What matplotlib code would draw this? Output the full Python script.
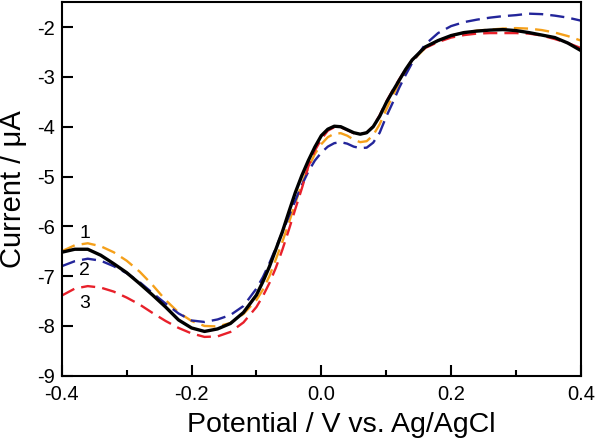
import numpy as np
import matplotlib
matplotlib.use('Agg')
import matplotlib.pyplot as plt

plt.rcParams['font.family'] = ['Liberation Sans', 'DejaVu Sans']
plt.rcParams['axes.unicode_minus'] = False

# potential (V) and currents (uA)
potential = [-0.40, -0.38, -0.36, -0.34, -0.32, -0.30, -0.28, -0.26, -0.24, -0.22,
             -0.20, -0.18, -0.16, -0.14, -0.12, -0.10, -0.09, -0.08, -0.07, -0.06,
             -0.05, -0.04, -0.03, -0.02, -0.01, 0.00, 0.01, 0.02, 0.03, 0.04,
             0.05, 0.06, 0.07, 0.08, 0.09, 0.10, 0.11, 0.12, 0.13, 0.14,
             0.16, 0.18, 0.20, 0.22, 0.24, 0.26, 0.28, 0.30, 0.32, 0.34,
             0.36, 0.38, 0.40]

black = [-6.52, -6.46, -6.46, -6.58, -6.75, -6.93, -7.15, -7.38, -7.62, -7.88,
         -8.04, -8.11, -8.06, -7.95, -7.73, -7.38, -7.11, -6.81, -6.46, -6.11,
         -5.71, -5.32, -4.98, -4.68, -4.41, -4.18, -4.05, -3.99, -4.00, -4.06,
         -4.12, -4.15, -4.12, -4.00, -3.79, -3.52, -3.29, -3.07, -2.85, -2.66,
         -2.40, -2.27, -2.17, -2.11, -2.08, -2.06, -2.05, -2.07, -2.11, -2.16,
         -2.21, -2.32, -2.47]

curve1 = [-6.50, -6.38, -6.34, -6.40, -6.52, -6.69, -6.91, -7.18, -7.48, -7.73,
          -7.90, -8.00, -8.01, -7.94, -7.76, -7.48, -7.27, -7.00, -6.66, -6.31,
          -5.93, -5.53, -5.15, -4.82, -4.55, -4.35, -4.21, -4.14, -4.13, -4.18,
          -4.26, -4.31, -4.29, -4.17, -3.95, -3.66, -3.38, -3.12, -2.89, -2.69,
          -2.42, -2.27, -2.17, -2.11, -2.07, -2.05, -2.03, -2.02, -2.03, -2.06,
          -2.11, -2.18, -2.27]

curve2 = [-6.80, -6.70, -6.65, -6.69, -6.80, -6.94, -7.12, -7.34, -7.55, -7.75,
          -7.89, -7.92, -7.87, -7.78, -7.60, -7.25, -7.02, -6.74, -6.43, -6.12,
          -5.80, -5.48, -5.17, -4.90, -4.68, -4.52, -4.40, -4.33, -4.31, -4.34,
          -4.40, -4.43, -4.42, -4.32, -4.12, -3.80, -3.52, -3.22, -2.96, -2.72,
          -2.35, -2.12, -1.98, -1.90, -1.85, -1.81, -1.78, -1.76, -1.73, -1.74,
          -1.77, -1.81, -1.87]

curve3 = [-7.39, -7.25, -7.20, -7.23, -7.31, -7.43, -7.57, -7.74, -7.90, -8.04,
          -8.15, -8.22, -8.21, -8.12, -7.93, -7.62, -7.40, -7.14, -6.83, -6.47,
          -6.07, -5.65, -5.24, -4.80, -4.48, -4.25, -4.08, -4.01, -4.01, -4.07,
          -4.13, -4.15, -4.12, -3.99, -3.77, -3.50, -3.27, -3.05, -2.85, -2.66,
          -2.42, -2.30, -2.21, -2.16, -2.13, -2.12, -2.12, -2.12, -2.13, -2.17,
          -2.24, -2.32, -2.42]

labels = ['1', '2', '3']
label_y = [-6.14, -6.89, -7.55]

fig = plt.figure(figsize=(6, 4.4), dpi=100)
ax = fig.add_axes([0.103, 0.146, 0.865, 0.849])

dash = (0, (6, 3))
ax.plot(potential, curve1, color='#F5A01A', lw=1.7, ls=dash)
ax.plot(potential, curve2, color='#23259A', lw=1.7, ls=dash)
ax.plot(potential, curve3, color='#E8202A', lw=1.7, ls=dash)
ax.plot(potential, black, color='black', lw=2.4)

for lab, yy in zip(labels, label_y):
    ax.text(-0.365, yy, lab, fontsize=14, ha='center', va='center')

ax.set_xlim(-0.4, 0.4)
ax.set_ylim(-9, -1.5)
ax.set_xticks([-0.4, -0.2, 0.0, 0.2, 0.4])
ax.set_xticklabels(['-0.4', '-0.2', '0.0', '0.2', '0.4'])
ax.set_xticks([-0.3, -0.1, 0.1, 0.3], minor=True)
ax.set_yticks([-9, -8, -7, -6, -5, -4, -3, -2])
ax.tick_params(axis='both', which='major', direction='in', length=8, width=1.5,
               labelsize=14.5, pad=5)
ax.tick_params(axis='x', which='major', pad=6.5)
ax.tick_params(axis='x', which='minor', direction='in', length=4, width=1.5)
for sp in ax.spines.values():
    sp.set_linewidth(1.5)

ax.set_xlabel('Potential / V vs. Ag/AgCl', fontsize=20.5)
ax.set_ylabel('Current / \u03bcA', fontsize=21)
ax.xaxis.set_label_coords(0.538, -0.098)
ax.yaxis.set_label_coords(-0.068, 0.5)

fig.savefig('out.png', dpi=100)
